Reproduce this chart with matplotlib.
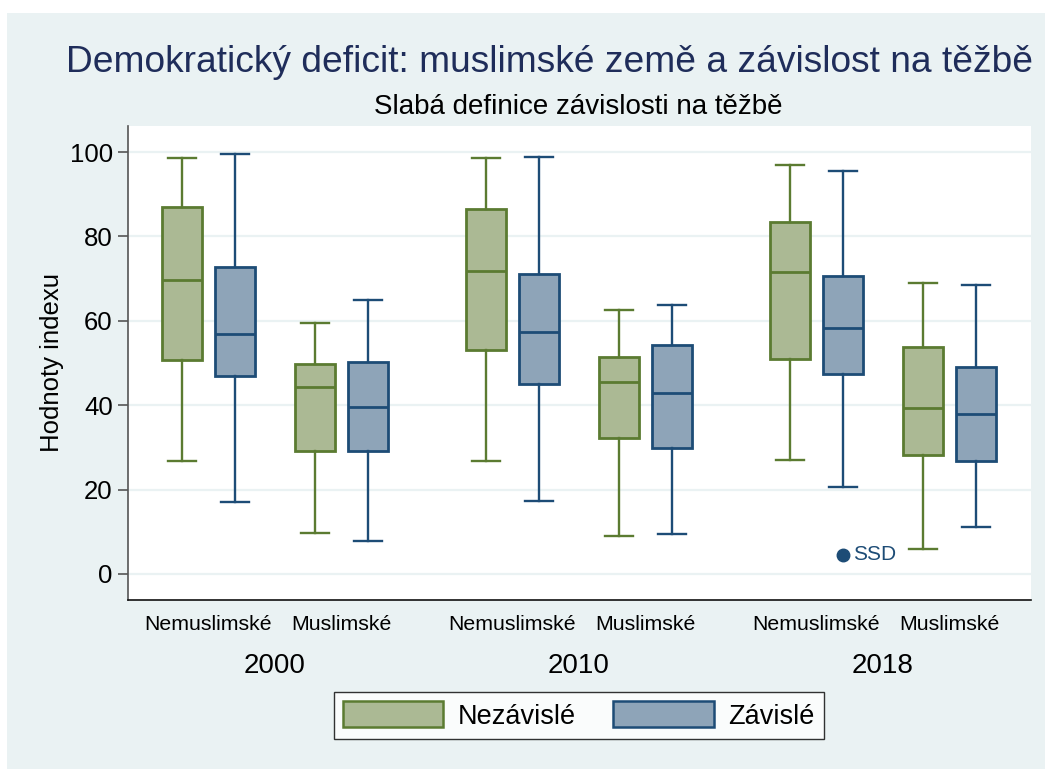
import matplotlib
matplotlib.use("Agg")
import matplotlib.pyplot as plt
from matplotlib.patches import Patch, Rectangle
import matplotlib.transforms as mtransforms

plt.rcParams['font.family'] = ['Liberation Sans', 'DejaVu Sans']

years = ["2000", "2010", "2018"]
categories = ["Nemuslimské", "Muslimské"]
series = ["Nezávislé", "Závislé"]

# stats per box: [whislo, q1, med, q3, whishi], ordered year -> category
nezavisle = [
    [26.8, 50.6, 69.8, 86.9, 98.7],   # 2000 Nemuslimské
    [9.8, 29.1, 44.3, 49.8, 59.5],    # 2000 Muslimské
    [26.7, 53.2, 71.9, 86.5, 98.7],   # 2010 Nemuslimské
    [9.0, 32.1, 45.5, 51.5, 62.6],    # 2010 Muslimské
    [27.0, 51.0, 71.6, 83.4, 97.0],   # 2018 Nemuslimské
    [5.8, 28.3, 39.3, 53.8, 69.0],    # 2018 Muslimské
]
zavisle = [
    [17.1, 46.9, 56.8, 72.7, 99.5],
    [7.8, 29.1, 39.5, 50.2, 65.0],
    [17.3, 45.1, 57.4, 71.2, 98.9],
    [9.4, 29.9, 43.0, 54.3, 63.7],
    [20.5, 47.4, 58.3, 70.6, 95.6],
    [11.2, 26.8, 37.9, 49.0, 68.5],
]
outlier_label = "SSD"
outlier_value = 4.5
outlier_box = 4  # 2018 Nemuslimské, Závislé

green_fill = "#ABB994"
green_edge = "#5B7B31"
blue_fill = "#8EA4B8"
blue_edge = "#1D4C76"
bg = "#EAF2F3"

W, H = 1045, 769
fig = plt.figure(figsize=(W / 100, H / 100), dpi=100)
fig.patch.set_facecolor("white")
fig.patches.append(Rectangle((7 / W, 0), 1 - 7 / W, 1 - 13 / H,
                             transform=fig.transFigure, facecolor=bg,
                             edgecolor="none", zorder=-10))

ax = fig.add_axes([128 / W, 1 - 600 / H, (1031 - 128) / W, (600 - 126) / H])
ax.set_facecolor("white")

def cat_center(i):
    yi, ci = divmod(i, 2)
    return yi * 3.04 + ci * 1.33

def make_stats(rows, fliers=None):
    out = []
    for i, r in enumerate(rows):
        d = dict(whislo=r[0], q1=r[1], med=r[2], q3=r[3], whishi=r[4], fliers=[])
        if fliers and i in fliers:
            d["fliers"] = [fliers[i]]
        out.append(d)
    return out

for rows, off, fc, ec, fl in [
    (nezavisle, -0.265, green_fill, green_edge, None),
    (zavisle, 0.265, blue_fill, blue_edge, {outlier_box: outlier_value}),
]:
    pos = [cat_center(i) + off for i in range(len(rows))]
    ax.bxp(make_stats(rows, fl), positions=pos, widths=0.40, patch_artist=True,
           showfliers=True,
           boxprops=dict(facecolor=fc, edgecolor=ec, linewidth=2.0),
           medianprops=dict(color=ec, linewidth=2.0),
           whiskerprops=dict(color=ec, linewidth=1.7),
           capprops=dict(color=ec, linewidth=1.7),
           capwidths=0.28,
           flierprops=dict(marker="o", markerfacecolor=ec, markeredgecolor=ec,
                           markersize=9),
           zorder=3)

ox = cat_center(outlier_box) + 0.265
ax.text(ox + 0.10, outlier_value, outlier_label, color=blue_edge, fontsize=15,
        va="center", ha="left", zorder=4)

ax.set_xlim(-0.805, 8.225)
ax.set_ylim(-6.2, 106.2)
ax.set_yticks([0, 20, 40, 60, 80, 100])
ax.tick_params(axis="y", labelsize=18.5, length=7, width=1.2, color="#555555", pad=4)
ax.set_xticks([])
ax.yaxis.grid(True, color=bg, linewidth=1.6, zorder=0)
ax.set_axisbelow(True)
for s in ["top", "right"]:
    ax.spines[s].set_visible(False)
ax.spines["left"].set_color("#555555")
ax.spines["left"].set_linewidth(1.2)
ax.spines["bottom"].set_color("#111111")
ax.spines["bottom"].set_linewidth(1.2)
ax.set_ylabel("Hodnoty indexu", fontsize=18.5, labelpad=4)

trans = mtransforms.blended_transform_factory(ax.transData, fig.transFigure)
for i in range(6):
    ax.text(cat_center(i), 1 - 624 / H, categories[i % 2], fontsize=15.3,
            ha="center", va="center", transform=trans)
for yi, yr in enumerate(years):
    ax.text(yi * 3.04 + 0.665, 1 - 666 / H, yr, fontsize=20,
            ha="center", va="center", transform=trans)

fig.text(549 / W, 1 - 62 / H, "Demokratický deficit: muslimské země a závislost na těžbě",
         fontsize=26.7, color="#1F2D5A", ha="center", va="center")
fig.text(578 / W, 1 - 107 / H, "Slabá definice závislosti na těžbě",
         fontsize=20, color="black", ha="center", va="center")

handles = [Patch(facecolor=green_fill, edgecolor=green_edge, linewidth=1.8),
           Patch(facecolor=blue_fill, edgecolor=blue_edge, linewidth=1.8)]
leg = fig.legend(handles, series, loc="center", bbox_to_anchor=(579 / W, 1 - 715.5 / H),
                 ncol=2, fontsize=19.5, frameon=True, fancybox=False,
                 handlelength=3.7, handleheight=1.1, columnspacing=1.37,
                 handletextpad=0.55, borderpad=0.35, borderaxespad=0)
leg.get_frame().set_edgecolor("black")
leg.get_frame().set_linewidth(1.0)
leg.get_frame().set_facecolor("white")

fig.savefig("out.png", dpi=100)
